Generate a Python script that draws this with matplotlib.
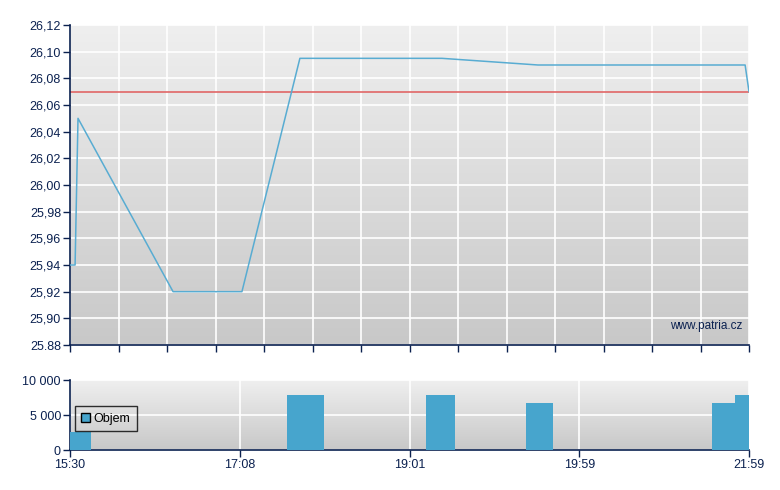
import numpy as np
import matplotlib
matplotlib.use("Agg")
import matplotlib.pyplot as plt
from matplotlib.patches import Patch

plt.rcParams['font.family'] = ['Liberation Sans', 'DejaVu Sans']

# x is position along the session axis (0 .. 28, trade index scale)
price_x = [0, 0.21, 0.33, 4.25, 7.09, 9.48, 15.34, 19.30, 27.84, 28]
price_y = [25.94, 25.94, 26.05, 25.92, 25.92, 26.095, 26.095, 26.09, 26.09, 26.07]
prev_close = 26.07

vol_left = [0, 8.95, 14.68, 18.80, 26.47, 27.42]
vol_width = [0.87, 1.52, 1.20, 1.12, 0.95, 0.58]
vol = [2600, 7900, 7900, 6700, 6700, 7900]

time_pos = [0, 7, 14, 21, 28]
time_labels = ['15:30', '17:08', '19:01', '19:59', '21:59']

price_ticks = np.round(np.arange(25.88, 26.121, 0.02), 2)
price_labels = ['25.88'] + [('%.2f' % v).replace('.', ',') for v in price_ticks[1:]]

navy = '#0b2150'
line_c = '#58acd2'
bar_c = '#47a5cd'

fig = plt.figure(figsize=(7.8, 4.9), dpi=100)
ax = fig.add_axes([70/780, 1-345/490, 679/780, 320/490])
ax2 = fig.add_axes([70/780, 1-450/490, 679/780, 70/490])

def gradient(a, lo, hi):
    g = np.linspace(0, 1, 256).reshape(-1, 1)
    a.imshow(g, extent=[0, 28, lo, hi], origin='lower', aspect='auto',
             cmap=matplotlib.colors.LinearSegmentedColormap.from_list('g', ['#c8c8c8', '#efefef']),
             zorder=0)

def style(a):
    for s in ['top', 'right']:
        a.spines[s].set_visible(False)
    for s in ['left', 'bottom']:
        a.spines[s].set_color(navy)
        a.spines[s].set_linewidth(1.2)
    a.tick_params(colors=navy, labelsize=9, length=5, width=1, direction='out', pad=1.5)
    a.grid(True, color='white', linewidth=1.2)
    a.set_axisbelow(True)

# price chart
gradient(ax, 25.88, 26.12)
style(ax)
ax.plot(price_x, price_y, color=line_c, linewidth=1.1, zorder=3)
ax.axhline(prev_close, color='#e06666', linewidth=1.2, zorder=2)
ax.set_xlim(0, 28)
ax.set_ylim(25.88, 26.12)
ax.set_yticks(price_ticks)
ax.set_yticklabels(price_labels)
ax.set_xticks(np.arange(0, 29, 2))
ax.set_xticklabels([])
ax.text(0.99, 0.06, 'www.patria.cz', transform=ax.transAxes, ha='right', va='center',
        color=navy, fontsize=8.5)

# volume chart
gradient(ax2, 0, 10000)
style(ax2)
ax2.bar(vol_left, vol, width=vol_width, align='edge', color=bar_c, zorder=3)
ax2.set_xlim(0, 28)
ax2.set_ylim(0, 10000)
ax2.set_yticks([0, 5000, 10000])
ax2.set_yticklabels(['0', '5 000', '10 000'])
ax2.set_xticks(time_pos)
ax2.set_xticklabels(time_labels)
leg = ax2.legend(handles=[Patch(facecolor=bar_c, edgecolor='black', label='Objem')],
                 loc='center left', bbox_to_anchor=(0.007, 0.45), fontsize=9,
                 frameon=True, fancybox=False, handlelength=0.7, handleheight=0.7,
                 handletextpad=0.3, borderpad=0.5, borderaxespad=0)
leg.get_frame().set_edgecolor('black')
leg.get_frame().set_facecolor('none')
leg.get_frame().set_linewidth(1)

fig.savefig('out.png', dpi=100)
